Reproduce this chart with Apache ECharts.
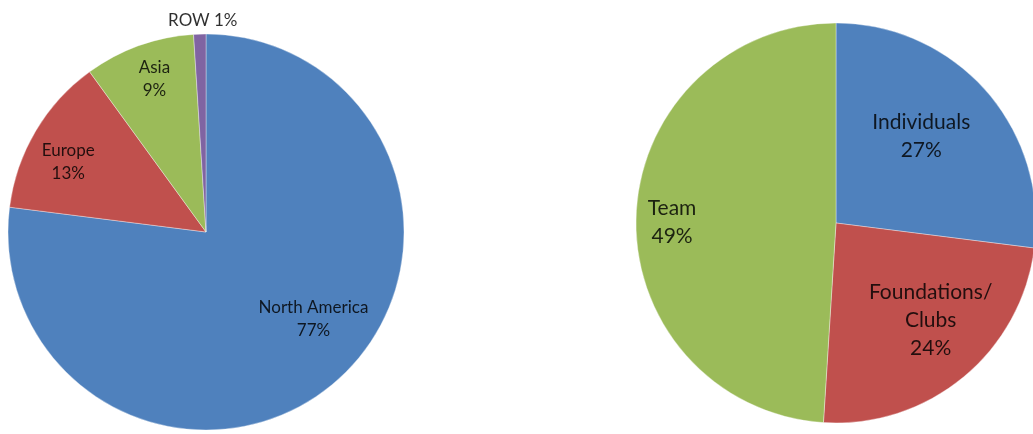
<!DOCTYPE html>
<html><head><meta charset="utf-8">
<script src="https://cdn.jsdelivr.net/npm/echarts@6/dist/echarts.min.js"></script>
<style>html,body{margin:0;padding:0;background:#fff}#c{width:1033px;height:434px}</style>
</head><body><div id="c"></div>
<script>
// Left pie: regions
const regionNames = ['North America', 'Europe', 'Asia', 'ROW'];
const regionShares = [77, 13, 9, 1];
// Right pie: funding sources
const sourceNames = ['Individuals', 'Foundations/\nClubs', 'Team'];
const sourceShares = [27, 24, 49];

const regionColors = ['#4F81BD', '#C0504D', '#9BBB59', '#8064A2'];
const sourceColors = ['#4F81BD', '#C0504D', '#9BBB59'];
const inlineLabelNames = ['ROW'];
// label nudges (dx, dy) from the default inside label position
const regionNudge = [[40, 11], [-50, -18], [-17, -57], [0, -110]];
const sourceNudge = [[8, -19], [29, 18], [-61, 2]];

const fontFamily = 'Lato, "Open Sans", sans-serif';
function fmt(p) {
  const sep = inlineLabelNames.indexOf(p.name) >= 0 ? ' ' : '\n';
  return p.name + sep + Math.round(p.percent) + '%';
}
function pieSeries(names, values, colors, nudge, center, radius, fontSize, lineHeight) {
  return {
    type: 'pie',
    center: center,
    radius: [0, radius],
    startAngle: 90,
    clockwise: true,
    silent: true,
    animation: false,
    avoidLabelOverlap: false,
    itemStyle: { borderColor: 'rgba(255,255,255,0.6)', borderWidth: 0.6 },
    label: {
      show: true,
      position: 'inside',
      formatter: fmt,
      color: 'rgba(0,0,0,0.82)',
      fontFamily: fontFamily,
      fontSize: fontSize,
      lineHeight: lineHeight,
      align: 'center'
    },
    labelLine: { show: false },
    labelLayout: function (params) {
      const n = nudge[params.dataIndex] || [0, 0];
      return { dx: n[0], dy: n[1] };
    },
    data: names.map(function (n, i) {
      return { name: n, value: values[i], itemStyle: { color: colors[i] } };
    })
  };
}

const chart = echarts.init(document.getElementById('c'), null, { renderer: 'canvas' });
chart.setOption({
  backgroundColor: '#ffffff',
  animation: false,
  series: [
    pieSeries(regionNames, regionShares, regionColors, regionNudge, [206, 232], 198, 17, 23),
    pieSeries(sourceNames, sourceShares, sourceColors, sourceNudge, [836, 223], 200, 21, 28)
  ]
});
</script>
</body></html>
